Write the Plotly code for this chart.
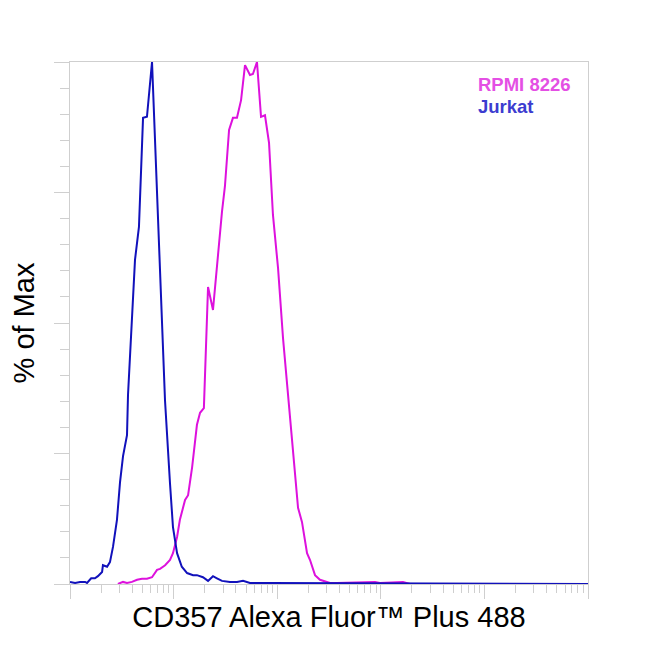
import plotly.graph_objects as go

# Jurkat (blue) histogram: fluorescence intensity vs % of max
jurkat_x = [10, 11.2, 12.5, 14.0, 14.6, 16.0, 17.4, 18.6, 20.4, 20.8, 22.8, 24.3, 26.0, 28.4,
            30.4, 32.5, 35.5, 36.3, 42.4, 46.3, 50.7, 55.3, 61.9, 66.1, 75.1, 82.6, 92.3, 98.6,
            108, 120, 135, 154, 168, 192, 215, 240, 262, 293, 350, 409, 468, 546, 638, 853, 1000000]
jurkat_y = [0.4, 0.2, 0.4, 0.4, 0.2, 1.1, 1.1, 1.5, 2.3, 3.6, 3.3, 4.2, 7.1, 12.3,
            19.5, 24.5, 28.5, 36.2, 62.1, 68.4, 89.3, 89.5, 100, 84.5, 54.4, 35.2, 19.3, 10.9,
            5.9, 3.3, 2.1, 1.7, 1.7, 1.3, 0.6, 1.5, 1.1, 0.6, 0.4, 0.4, 0.6, 0.2, 0.2, 0.2, 0]

# RPMI 8226 (magenta) histogram
rpmi_x = [29.0, 30.4, 32.5, 35.5, 39.6, 44.4, 49.5, 55.3, 61.9, 69.2, 74.0, 82.8, 92.3, 98.6,
          108, 115, 129, 138, 151, 168, 180, 196, 215, 240, 262, 293, 313, 343, 374, 409,
          448, 489, 546, 583, 638, 698, 762, 834, 910, 1019, 1138, 1245, 1422, 1589, 1734,
          1941, 2075, 2317, 2588, 3027, 3236, 3776, 8790, 9817, 16370, 19140, 1000000]
rpmi_y = [0, 0.2, 0.4, 0.2, 0.4, 0.8, 1.0, 1.0, 1.3, 2.7, 2.9, 3.6, 4.6, 5.9,
          9.0, 12.3, 16.1, 17.0, 22.4, 30.5, 32.8, 33.7, 56.9, 52.5, 61.5, 71.3, 76.2, 87.0, 89.3, 89.3,
          92.7, 99.4, 97.5, 97.7, 100, 89.5, 89.8, 84.5, 70.7, 60.5, 47.1, 38.5, 25.7, 14.6, 11.9,
          5.9, 4.6, 1.7, 0.8, 0.4, 0.2, 0.2, 0.4, 0.2, 0.4, 0, 0]

fig = go.Figure()
fig.add_trace(go.Scatter(x=rpmi_x, y=rpmi_y, mode='lines', name='RPMI 8226',
                         line=dict(color='#dd11dd', width=2)))
fig.add_trace(go.Scatter(x=jurkat_x, y=jurkat_y, mode='lines', name='Jurkat',
                         line=dict(color='#1111bb', width=2)))

# legend drawn as coloured text, top right
fig.add_annotation(text='<b>RPMI 8226</b>', xref='paper', yref='paper', x=0.784, y=0.957,
                   xanchor='left', yanchor='middle', showarrow=False,
                   font=dict(size=18.5, color='#e44fe4'))
fig.add_annotation(text='<b>Jurkat</b>', xref='paper', yref='paper', x=0.784, y=0.915,
                   xanchor='left', yanchor='middle', showarrow=False,
                   font=dict(size=18.5, color='#3c3cd0'))

axis_col = '#cfcfcf'
# page body adds an 8px offset, so the figure is a bit smaller than the window
fig.update_layout(
    width=642, height=642,
    margin=dict(l=62, r=62, t=54, b=66),
    paper_bgcolor='white', plot_bgcolor='white',
    showlegend=False,
    font=dict(family='Arial, Liberation Sans, sans-serif', color='black'),
    xaxis=dict(type='log', range=[1, 6], showgrid=False, zeroline=False,
               showline=True, linecolor=axis_col, linewidth=1, mirror=True,
               ticks='outside', ticklen=14, tickcolor=axis_col, dtick=1,
               showticklabels=False,
               minor=dict(ticks='outside', ticklen=8, tickcolor=axis_col, dtick='D1'),
               title=dict(text='CD357 Alexa Fluor™ Plus 488', font=dict(size=29), standoff=8)),
    yaxis=dict(range=[0, 100], showgrid=False, zeroline=False,
               showline=True, linecolor=axis_col, linewidth=1, mirror=True,
               ticks='outside', ticklen=15, tickcolor=axis_col, dtick=25,
               showticklabels=False,
               minor=dict(ticks='outside', ticklen=9, tickcolor=axis_col, dtick=5),
               title=dict(text='% of Max', font=dict(size=29), standoff=11)),
)

fig.write_html("out.html")
